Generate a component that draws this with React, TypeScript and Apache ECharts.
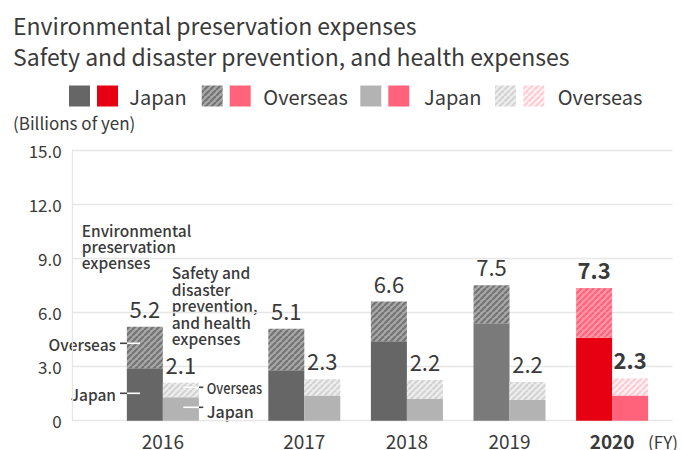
import React, { useEffect, useRef } from 'react';
import * as echarts from 'echarts';

const years = ['2016', '2017', '2018', '2019', '2020'];
const envJapan = [2.9, 2.8, 4.4, 5.4, 4.6];
const envOverseas = [2.3, 2.3, 2.2, 2.1, 2.75];
const envTotalLabels = ['5.2', '5.1', '6.6', '7.5', '7.3'];
const safJapan = [1.3, 1.4, 1.2, 1.15, 1.4];
const safOverseas = [0.8, 0.9, 1.05, 1.0, 0.95];
const safTotalLabels = ['2.1', '2.3', '2.2', '2.2', '2.3'];
const yMin = 0;
const yMax = 15;
const yInterval = 3;
const highlightYear = '2020';

const FONT = '"Noto Sans CJK JP", "Noto Sans", sans-serif';
const TXT = '#3a3a3a';

function hatch(bg: string, fg: string) {
  const s = 6;
  const c = document.createElement('canvas');
  c.width = s;
  c.height = s;
  const ctx = c.getContext('2d')!;
  ctx.fillStyle = bg;
  ctx.fillRect(0, 0, s, s);
  ctx.strokeStyle = fg;
  ctx.lineWidth = 2.2;
  for (const o of [-s, 0, s]) {
    ctx.beginPath();
    ctx.moveTo(o, s);
    ctx.lineTo(o + s, 0);
    ctx.stroke();
  }
  return { image: c.toDataURL(), repeat: 'repeat', imageWidth: s, imageHeight: s };
}

export default function App() {
  const ref = useRef<HTMLDivElement>(null);
  useEffect(() => {
    document.body.style.margin = '0';
    const chart = echarts.init(ref.current!, null, { renderer: 'svg' });

    const darkHatch = hatch('#a8a8a8', '#747474');
    const lightHatch = hatch('#eeeeee', '#d3d3d3');
    const pinkHatch = hatch('#ff97a6', '#ff657c');
    const lightPinkHatch = hatch('#fff2f4', '#ffcbd3');

    const isHi = (i: number) => years[i] === highlightYear;
    const envJapanColor = years.map((y, i) => (isHi(i) ? '#e60012' : i === 3 ? '#7a7a7a' : '#666666'));
    const envOverseasColor = years.map((y, i) => (isHi(i) ? pinkHatch : darkHatch));
    const safJapanColor = years.map((y, i) => (isHi(i) ? '#ff637b' : '#b3b3b3'));
    const safOverseasColor = years.map((y, i) => (isHi(i) ? lightPinkHatch : lightHatch));

    const groups = [[0], [1, 2, 3, 4]];

    const series: any[] = [];
    groups.forEach((idx, g) => {
      const gi = g + 1;
      const mk = (name: string, vals: number[], colors: any[], stack: string, labels?: string[]) => ({
        name,
        type: 'bar',
        xAxisIndex: gi,
        yAxisIndex: gi,
        stack: stack + gi,
        barWidth: 36,
        barGap: '0%',
        data: idx.map((i) => ({
          value: vals[i],
          itemStyle: { color: colors[i] },
          label: labels
            ? {
                show: true,
                position: 'top',
                distance: 8,
                formatter: labels[i],
                fontFamily: FONT,
                fontSize: 22,
                fontWeight: isHi(i) ? 'bold' : 'normal',
                color: TXT,
              }
            : { show: false },
        })),
      });
      series.push(mk('envJapan', envJapan, envJapanColor, 'env'));
      series.push(mk('envOverseas', envOverseas, envOverseasColor, 'env', envTotalLabels));
      series.push(mk('safJapan', safJapan, safJapanColor, 'saf'));
      series.push(mk('safOverseas', safOverseas, safOverseasColor, 'saf', safTotalLabels));
    });

    const top = 150;
    const bottom = 29.3;
    const hiddenY = (gi: number) => ({
      gridIndex: gi,
      type: 'value',
      min: yMin,
      max: yMax,
      interval: yInterval,
      show: false,
    });
    const catX = (gi: number, data: string[]) => ({
      gridIndex: gi,
      type: 'category',
      data,
      axisLine: { show: false },
      axisTick: { show: false },
      axisLabel: {
        margin: 10,
        fontFamily: FONT,
        fontSize: 19,
        color: TXT,
        formatter: (v: string) => (v === highlightYear ? '{b|' + v + '}' : v),
        rich: { b: { fontFamily: FONT, fontSize: 19, fontWeight: 'bold', color: TXT } },
      },
    });

    const legendItems = [
      { x: 69, fill: '#666666' },
      { x: 97, fill: '#e60012' },
      { x: 201.7, fill: darkHatch },
      { x: 229.7, fill: '#ff637b' },
      { x: 360.3, fill: '#b3b3b3' },
      { x: 388.3, fill: '#ff637b' },
      { x: 495, fill: lightHatch },
      { x: 523.3, fill: lightPinkHatch },
    ];
    const legendTexts = [
      { x: 129.3, t: 'Japan' },
      { x: 263.3, t: 'Overseas' },
      { x: 424, t: 'Japan' },
      { x: 557.7, t: 'Overseas' },
    ];

    const txt = (x: number, y: number, text: string, o: any = {}) => ({
      type: 'text',
      x,
      y,
      scaleX: o.scaleX ?? 1,
      style: {
        x: 0,
        y: 0,
        text,
        fill: o.fill ?? TXT,
        font: `${o.weight ?? 'normal'} ${o.size ?? 16}px ${FONT}`,
        textAlign: o.align ?? 'left',
        textVerticalAlign: o.valign ?? 'middle',
        lineHeight: o.lh,
      },
    });
    const ln = (x1: number, x2: number, y: number, color: string) => ({
      type: 'line',
      shape: { x1, y1: y, x2, y2: y },
      style: { stroke: color, lineWidth: 1.6 },
      z: 100,
    });

    const graphic: any[] = [
      txt(13, 24.5, 'Environmental preservation expenses', { size: 23 }),
      txt(13, 56, 'Safety and disaster prevention, and health expenses', { size: 23 }),
      ...legendItems.map((l) => ({
        type: 'rect',
        shape: { x: l.x, y: 85.5, width: 21, height: 21 },
        style: { fill: l.fill },
      })),
      ...legendTexts.map((l) => txt(l.x, 96, l.t, { size: 20 })),
      txt(13, 122, '(Billions of yen)', { size: 17 }),
      txt(81.7, 222, 'Environmental\npreservation\nexpenses', { size: 15.5, weight: 500, valign: 'top', lh: 16 }),
      txt(171.7, 264, 'Safety and\ndisaster\nprevention,\nand health\nexpenses', {
        size: 15.5,
        weight: 500,
        valign: 'top',
        lh: 16.5,
      }),
      txt(116, 343.5, 'Overseas', { size: 15.5, weight: 500, align: 'right' }),
      ln(120, 127, 343.3, '#444'),
      ln(127, 140, 343.3, '#ffffff'),
      txt(116, 394, 'Japan', { size: 15.5, weight: 500, align: 'right' }),
      ln(120, 127, 393.3, '#444'),
      ln(127, 140, 393.3, '#ffffff'),
      txt(206.7, 387.5, 'Overseas', { size: 15, weight: 500, scaleX: 0.85 }),
      ln(183.3, 199, 387.3, '#ffffff'),
      ln(199, 203.3, 387.3, '#444'),
      txt(206.7, 411, 'Japan', { size: 16, weight: 500 }),
      ln(183.3, 199, 407.3, '#ffffff'),
      ln(199, 203.3, 407.3, '#444'),
      txt(648, 441, '(FY)', { size: 17 }),
    ];

    chart.setOption({
      animation: false,
      grid: [
        { left: 72.7, right: 9.3, top, bottom },
        { left: 72.7, width: 180.3, top, bottom },
        { left: 253, width: 410.4, top, bottom },
      ],
      xAxis: [
        { gridIndex: 0, type: 'value', min: 0, max: 1, show: false },
        catX(1, groups[0].map((i) => years[i])),
        catX(2, groups[1].map((i) => years[i])),
      ],
      yAxis: [
        {
          gridIndex: 0,
          type: 'value',
          min: yMin,
          max: yMax,
          interval: yInterval,
          axisLine: { show: true, lineStyle: { color: '#e6e6e6', width: 1.3 } },
          axisTick: { show: false },
          splitLine: { lineStyle: { color: '#e6e6e6', width: 1.3 } },
          axisLabel: {
            margin: 11,
            fontFamily: FONT,
            fontSize: 17,
            color: TXT,
            formatter: (v: number) => (v === 0 ? '0' : v.toFixed(1)),
          },
        },
        hiddenY(1),
        hiddenY(2),
      ],
      series,
      graphic,
    });
    return () => chart.dispose();
  }, []);
  return <div ref={ref} style={{ width: 682, height: 450 }} />;
}
